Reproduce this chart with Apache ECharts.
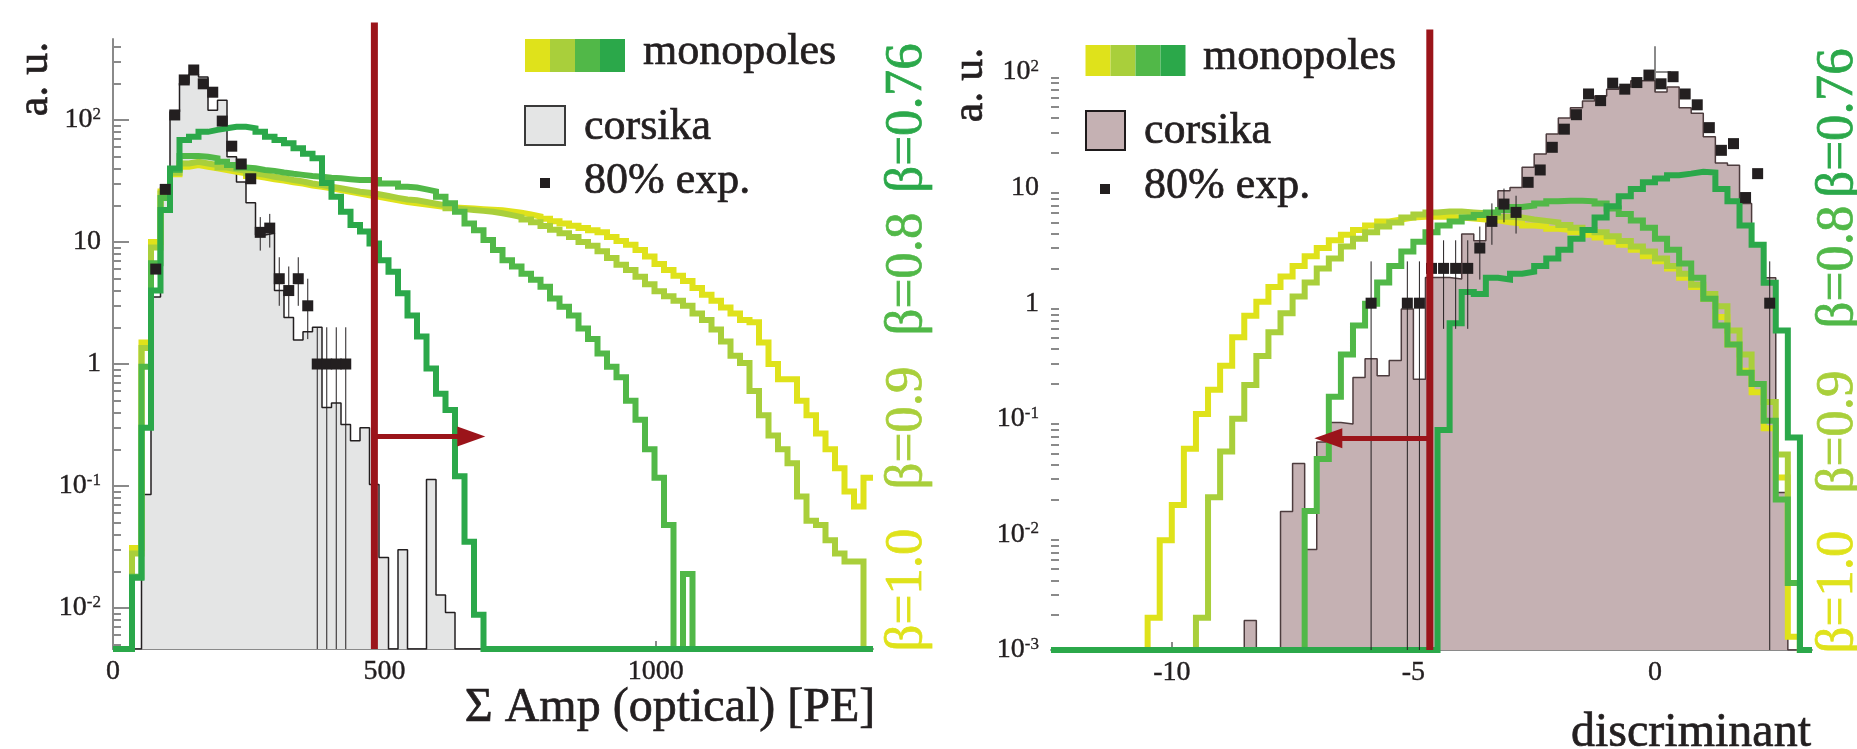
<!DOCTYPE html>
<html>
<head>
<meta charset="utf-8">
<script src="https://cdn.jsdelivr.net/npm/echarts@6/dist/echarts.min.js"></script>
<style>
  html, body { margin: 0; padding: 0; background: #fff; }
  #chart { width: 1857px; height: 749px; }
</style>
</head>
<body>
<div id="chart"></div>
<script>
// ---------- left panel: Sigma Amp (optical) [PE], 80 bins of 17.5 PE ----------
const ampStart = 0;
const ampWidth = 17.5;
const ampB100 = [0, 0, 0.031, 1.5, 10, 26, 36, 41.4, 42.7, 41.4,
  40.2, 38.9, 37.7, 36.6, 34.8, 33.7, 32.7, 31.9, 30.9, 30.1,
  29, 28.4, 27.6, 26.7, 25.8, 25, 24.2, 23.5, 22.7, 22,
  21.3, 20.8, 20.3, 19.8, 19.4, 19.2, 19, 18.8, 18.6, 18.4,
  18.2, 17.8, 17.4, 16.8, 16.2, 15.5, 14.8, 14.2, 13.6, 13,
  12.5, 12, 11, 10.2, 9.5, 8.6, 7.6, 6.6, 5.9, 5.3,
  4.8, 4.2, 3.7, 3.3, 2.9, 2.6, 2.3, 2.2, 1.5, 1.0,
  0.75, 0.75, 0.5, 0.38, 0.27, 0.2, 0.14, 0.09, 0.068, 0.117];
const ampB090 = [0, 0, 0.028, 1.35, 9, 25, 37, 44, 45.5, 44,
  42.7, 40.8, 39.5, 38.3, 36.6, 35.5, 34.3, 33.3, 32.2, 31.3,
  30.2, 29.3, 28.4, 27.6, 26.7, 25.8, 25.3, 24.6, 23.8, 23,
  22.3, 22, 21.3, 20.6, 20, 18.9, 18.6, 18.3, 18, 17.7,
  17.2, 16.6, 16, 15.3, 14.5, 13.5, 12.6, 11.8, 11, 10,
  9.3, 8.4, 7.4, 6.5, 5.9, 5.2, 4.5, 3.95, 3.6, 3.3,
  3.0, 2.6, 2.3, 1.92, 1.53, 1.17, 1.02, 0.6, 0.38, 0.26,
  0.2, 0.154, 0.082, 0.052, 0.048, 0.036, 0.028, 0.024, 0.024, 0];
const ampB080 = [0, 0, 0.018, 0.95, 6.7, 23, 39, 50.6, 50.6, 50,
  48.5, 45.5, 42.7, 40.8, 40.2, 38.9, 38.3, 37.1, 36.2, 35.5,
  34.8, 34.3, 33.7, 33.3, 32.7, 32.2, 32.2, 32.2, 30.2, 30.2,
  28.4, 28, 27, 26, 23.5, 20.8, 17.7, 14.2, 12.5, 10.4,
  8.6, 7.1, 6.3, 5.5, 4.9, 4.3, 3.45, 2.95, 2.5, 1.95,
  1.6, 1.22, 0.95, 0.78, 0.5, 0.35, 0.2, 0.117, 0.048, 0,
  0.019, 0, 0, 0, 0, 0, 0, 0, 0, 0,
  0, 0, 0, 0, 0, 0, 0, 0, 0, 0];
const ampB076 = [0, 0, 0.0177, 0.3, 4.0, 18.3, 40, 68.6, 73, 80,
  83, 85.5, 88, 88, 85.5, 80, 73, 68.6, 64.4, 58.6,
  53, 48.6, 30.4, 23.5, 17.7, 13.8, 12.2, 9.7, 7.1, 5.7,
  3.8, 2.5, 1.68, 0.92, 0.57, 0.42, 0.12, 0.035, 0.0088, 0,
  0, 0, 0, 0, 0, 0, 0, 0, 0, 0,
  0, 0, 0, 0, 0, 0, 0, 0, 0, 0,
  0, 0, 0, 0, 0, 0, 0, 0, 0, 0,
  0, 0, 0, 0, 0, 0, 0, 0, 0, 0];
const ampCorsika = [0, 0, 0, 0.085, 3.55, 28, 117, 200, 237, 225,
  120, 145, 50, 31, 21, 11.4, 11.8, 4.0, 2.4, 1.57,
  1.84, 2.0, 0.44, 0.48, 0.32, 0.235, 0.30, 0.103, 0.026, 0,
  0.030, 0, 0, 0.113, 0.0128, 0.0092, 0, 0, 0, 0,
  0, 0, 0, 0, 0, 0, 0, 0, 0, 0,
  0, 0, 0, 0, 0, 0, 0, 0, 0, 0,
  0, 0, 0, 0, 0, 0, 0, 0, 0, 0,
  0, 0, 0, 0, 0, 0, 0, 0, 0, 0];
const ampExpBin = [4, 5, 6, 7, 8, 9, 10, 11, 12, 13, 14, 15, 16, 17, 18, 19, 20, 21, 22, 23, 24];
const ampExpVal = [6, 27, 110, 213, 257, 198, 169, 98, 61, 43.6, 33, 12, 13, 5, 4, 5, 3, 1, 1, 1, 1];
const ampErrBin = [15, 16, 17, 18, 19, 20, 21, 22, 23, 24];
const ampErrLo = [8.5, 9, 3, 2.4, 3, 1.6, 0, 0, 0, 0];
const ampErrHi = [16, 17, 7.5, 6.3, 7.5, 5, 2.0, 2.0, 2.0, 2.0];
const ampTicks = [0, 500, 1000];
const ampCut = 481.5;
const ampArrowEnd = 660;
const ampArrowY = 0.254;

// ---------- right panel: discriminant, 63 bins of 0.25 ----------
const discStart = -12.5;
const discWidth = 0.25;
const discB100 = [0, 0, 0, 0, 0, 0, 0, 0, 0.0019, 0.0089,
  0.018, 0.055, 0.11, 0.178, 0.287, 0.507, 0.78, 1.03, 1.38, 1.7,
  2.1, 2.55, 3.0, 3.5, 3.9, 4.3, 4.7, 5.1, 5.3, 5.5,
  5.6, 5.6, 5.6, 5.5, 5.4, 5.3, 5.2, 5.0, 4.9, 4.7,
  4.6, 4.4, 4.3, 4.1, 3.9, 3.7, 3.4, 3.2, 2.9, 2.55,
  2.3, 2.0, 1.66, 1.38, 1.09, 0.76, 0.44, 0.26, 0.17, 0.083,
  0.031, 0.0013, 0];
const discB090 = [0, 0, 0, 0, 0, 0, 0, 0, 0, 0,
  0, 0, 0.0019, 0.021, 0.052, 0.1, 0.196, 0.35, 0.56, 0.82,
  1.14, 1.51, 2.0, 2.43, 3.1, 3.6, 4.1, 4.6, 5.0, 5.5,
  5.85, 6.1, 6.2, 6.2, 6.1, 6.0, 5.85, 5.6, 5.5, 5.3,
  5.15, 5.0, 4.75, 4.5, 4.3, 4.1, 3.8, 3.45, 3.1, 2.8,
  2.43, 2.1, 1.8, 1.44, 1.2, 0.94, 0.58, 0.36, 0.2, 0.14,
  0.049, 0.0038, 0];
const discB080 = [0, 0, 0, 0, 0, 0, 0, 0, 0, 0,
  0, 0, 0, 0, 0, 0, 0, 0, 0, 0,
  0, 0.0159, 0.045, 0.155, 0.36, 0.64, 0.99, 1.51, 2.1, 2.8,
  3.4, 4.1, 4.7, 5.1, 5.5, 5.8, 6.1, 6.4, 6.8, 7.0,
  7.3, 7.6, 7.7, 7.7, 7.6, 7.3, 6.6, 5.9, 5.2, 4.5,
  3.6, 2.9, 2.2, 1.66, 1.09, 0.64, 0.44, 0.25, 0.2, 0.096,
  0.02, 0.0038, 0];
const discB076 = [0, 0, 0, 0, 0, 0, 0, 0, 0, 0,
  0, 0, 0, 0, 0, 0, 0, 0, 0, 0,
  0, 0, 0, 0, 0, 0, 0, 0, 0, 0,
  0, 0, 0.08, 0.67, 1.25, 1.2, 1.66, 1.6, 1.8, 1.87,
  2.1, 2.43, 2.9, 3.6, 4.3, 5.5, 6.9, 8.4, 9.7, 11.1,
  12, 12.8, 13.2, 13.7, 13.5, 9.7, 7.6, 4.7, 3.2, 1.5,
  0.58, 0.069, 0];
const discCorsika = [0, 0, 0, 0, 0, 0, 0, 0, 0, 0,
  0, 0, 0, 0, 0, 0, 0.0018, 0, 0, 0.0158,
  0.041, 0.0074, 0.063, 0.093, 0.09, 0.228, 0.33, 0.236, 0.32, 0.89,
  0.22, 1.67, 1.67, 1.62, 3.96, 3.47, 5.0, 9.4, 10, 15,
  19.5, 29, 40, 49, 56, 62, 71, 74, 84, 84,
  67, 74, 49, 44, 27.5, 16.3, 15.6, 7.3, 3.24, 1.66,
  0.023, 0, 0];
const discExpBin = [26, 29, 30, 31, 32, 33, 34, 35, 36, 37, 38, 39, 40, 41, 42, 43,
  44, 45, 46, 47, 48, 49, 50, 51, 52, 53, 54, 55, 56, 57, 58, 59];
const discExpVal = [1, 1, 1, 2, 2, 2, 2, 3, 5.1, 7.2, 6.1, 11.1, 14.2, 22.3, 32, 42.7,
  64.5, 56.5, 80, 71, 81, 94, 79, 91, 64.5, 52, 33, 21, 24, 8.2, 13.2, 1];
const discErrBin = [26, 29, 30, 31, 32, 33, 34, 35, 36, 37, 38, 59];
const discErrLo = [0, 0, 0, 0.6, 0.6, 0.6, 0.6, 1.6, 3.2, 5, 4, 0];
const discErrHi = [2.3, 2.3, 2.3, 3.5, 3.5, 3.5, 3.5, 4.6, 7.3, 9.8, 8.5, 2.3];
const discTicks = [-10, -5, 0];
const discCut = -4.66;
const discArrowEnd = -6.76;
const discArrowY = 0.068;

// y extents in decades (log10 of a.u.)
const ampLogMin = -2.336, ampLogMax = 2.664, ampRedTop = 2.799;
const discLogMin = -3.0, discLogMax = 2.216, discRedTop = 2.367;

const serif = 'Liberation Serif';
const ink = '#231f20';
const axisGray = '#8a8a8a';
const red = '#9b141a';
const betaColors = ['#dfe21b', '#a9cf3b', '#51b848', '#2ba84a'];

const lg = (v, floor) => (v > 0 ? Math.log10(v) : floor);

function stepData(vals, x0, w, floor) {
  const pts = vals.map((v, i) => [x0 + i * w, lg(v, floor)]);
  pts.push([x0 + vals.length * w, lg(vals[vals.length - 1], floor)]);
  return pts;
}

function monoSeries(vals, color, axis, x0, w, floor) {
  return {
    type: 'line', xAxisIndex: axis, yAxisIndex: axis === 0 ? 0 : 3, step: 'end',
    data: stepData(vals, x0, w, floor), symbol: 'none', silent: true, z: 3,
    lineStyle: { color, width: 6, cap: 'butt', join: 'miter' }
  };
}

function corsikaSeries(vals, fill, stroke, axis, x0, w, floor) {
  return {
    type: 'line', xAxisIndex: axis, yAxisIndex: axis === 0 ? 0 : 3, step: 'end',
    data: stepData(vals, x0, w, floor), symbol: 'none', silent: true, z: 1,
    lineStyle: { color: stroke, width: 1.5 },
    areaStyle: { color: fill, opacity: 1, origin: 'start' }
  };
}

function expSeries(bins, vals, axis, x0, w) {
  return {
    type: 'scatter', xAxisIndex: axis, yAxisIndex: axis === 0 ? 0 : 3,
    symbol: 'rect', symbolSize: 11, silent: true, z: 5,
    itemStyle: { color: ink, opacity: 1 },
    data: bins.map((b, i) => [x0 + (b + 0.5) * w, Math.log10(vals[i])])
  };
}

function errSeries(bins, lo, hi, axis, x0, w, floor) {
  return {
    type: 'custom', xAxisIndex: axis, yAxisIndex: axis === 0 ? 0 : 3, silent: true, z: 4,
    encode: { x: 0, y: [1, 2] },
    data: bins.map((b, i) => [x0 + (b + 0.5) * w, lg(lo[i], floor), lg(hi[i], floor)]),
    renderItem: (params, api) => {
      const a = api.coord([api.value(0), api.value(1)]);
      const b = api.coord([api.value(0), api.value(2)]);
      return { type: 'line', shape: { x1: a[0], y1: a[1], x2: b[0], y2: b[1] },
        style: { stroke: ink, lineWidth: 1 } };
    }
  };
}

function cutSeries(cut, top, floor, arrowEnd, arrowY, axis) {
  return {
    type: 'line', xAxisIndex: axis, yAxisIndex: axis === 1 ? 2 : 5, z: 8, silent: true,
    symbol: 'none', clip: false,
    data: [[cut, floor], [cut, top]],
    lineStyle: { color: red, width: 7, cap: 'butt' },
    markLine: {
      silent: true, animation: false, symbol: ['none', 'triangle'], symbolSize: [20, 28],
      label: { show: false },
      lineStyle: { color: red, width: 5, type: 'solid' },
      emphasis: { disabled: true },
      data: [[{ coord: [cut, Math.log10(arrowY)] }, { coord: [arrowEnd, Math.log10(arrowY)] }]]
    }
  };
}

function decades(lo, hi) {
  const out = [];
  for (let n = Math.ceil(lo); n <= Math.floor(hi); n++) out.push(n);
  return out;
}
function minorTicks(lo, hi) {
  const out = [];
  for (let n = Math.floor(lo); n <= Math.ceil(hi); n++) {
    for (let m = 2; m <= 9; m++) {
      const t = n + Math.log10(m);
      if (t > lo && t < hi) out.push(t);
    }
  }
  return out;
}

const powLabel = v => (v === 0 ? '{b|1}' : v === 1 ? '{b|10}' : '{b|10}{s|' + v + '}');
const labelRich = {
  b: { fontSize: 28, fontFamily: serif, color: ink, textBorderColor: ink, textBorderWidth: 0.4 },
  s: { fontSize: 17, fontFamily: serif, color: ink, verticalAlign: 'top', textBorderColor: ink, textBorderWidth: 0.3 }
};

function majorY(grid, lo, hi) {
  const ticks = decades(lo, hi);
  return {
    type: 'value', gridIndex: grid, min: lo, max: hi,
    splitLine: { show: false },
    axisLine: { show: true, lineStyle: { color: axisGray, width: 2 } },
    axisTick: { show: true, inside: true, length: 16, customValues: ticks,
      lineStyle: { color: axisGray, width: 2 } },
    axisLabel: { customValues: ticks, margin: 12, formatter: powLabel, rich: labelRich,
      fontFamily: serif, fontSize: 28, color: ink }
  };
}
function minorY(grid, lo, hi) {
  return {
    type: 'value', gridIndex: grid, min: lo, max: hi, position: 'left',
    splitLine: { show: false }, axisLine: { show: false }, axisLabel: { show: false },
    axisTick: { show: true, inside: true, length: 8, customValues: minorTicks(lo, hi),
      lineStyle: { color: axisGray, width: 2 } }
  };
}
function hiddenY(grid, lo, hi) {
  return { type: 'value', gridIndex: grid, min: lo, max: hi, show: false };
}
function mainX(grid, lo, hi, ticks) {
  return {
    type: 'value', gridIndex: grid, min: lo, max: hi,
    splitLine: { show: false },
    axisLine: { show: true, onZero: false, lineStyle: { color: axisGray, width: 2 } },
    axisTick: { show: true, inside: true, length: 8, customValues: ticks,
      lineStyle: { color: axisGray, width: 2 } },
    axisLabel: { customValues: ticks, margin: 9, fontSize: 28, fontFamily: serif, color: ink,
      textBorderColor: ink, textBorderWidth: 0.4, formatter: v => String(v) }
  };
}
function hiddenX(grid, lo, hi) {
  return { type: 'value', gridIndex: grid, min: lo, max: hi, show: false };
}

const ampEnd = ampStart + ampB100.length * ampWidth;
const discEnd = discStart + discB100.length * discWidth;

function txt(x, y, text, size, color, opts) {
  return Object.assign({ type: 'text', x, y, silent: true, z: 20,
    style: Object.assign({ text, fontSize: size, fontFamily: serif, fill: color,
      stroke: color, lineWidth: 0.7,
      align: 'left', verticalAlign: 'middle' }, (opts && opts.style) || {}) },
    opts && opts.rotation ? { rotation: opts.rotation } : {});
}
function rect(x, y, w, h, fill, stroke) {
  return { type: 'rect', silent: true, z: 20, shape: { x, y, width: w, height: h },
    style: { fill, stroke: stroke || null, lineWidth: stroke ? 2 : 0 } };
}
const up = Math.PI / 2;
const center = { align: 'center', verticalAlign: 'middle' };
const betaNames = ['\u03b2=1.0', '\u03b2=0.9', '\u03b2=0.8', '\u03b2=0.76'];

const graphics = [
  txt(35, 79, 'a. u.', 44, ink, { rotation: up, style: center }),
  txt(970, 85, 'a. u.', 44, ink, { rotation: up, style: center }),
  txt(670, 708, '\u03a3 Amp (optical) [PE]', 48, ink, { style: { align: 'center' } }),
  txt(1691, 733, 'discriminant', 48, ink, { style: { align: 'center' } }),
  // left legend
  ...betaColors.map((c, i) => rect(525 + i * 25, 39, 25, 33, c)),
  txt(643, 52, 'monopoles', 44, ink),
  rect(525, 106, 40, 39, '#e4e5e5', '#3a3a3a'),
  txt(584, 127, 'corsika', 44, ink),
  rect(540, 178, 10, 10, ink),
  txt(584, 181, '80% exp.', 44, ink),
  // right legend
  ...betaColors.map((c, i) => rect(1085.5 + i * 25, 45, 25, 31, c)),
  txt(1203, 57, 'monopoles', 44, ink),
  rect(1086, 111, 39, 39, '#c5b1b3', '#1e1a1b'),
  txt(1144, 131, 'corsika', 44, ink),
  rect(1100, 184, 10, 10, ink),
  txt(1144, 186, '80% exp.', 44, ink),
  // beta labels
  ...[590, 428, 274, 118].map((y, i) => txt(907, y, betaNames[i], 53, betaColors[i], { rotation: up, style: center })),
  ...[592, 432, 267, 123].map((y, i) => txt(1838, y, betaNames[i], 53, betaColors[i], { rotation: up, style: center }))
];

const chart = echarts.init(document.getElementById('chart'), null, { renderer: 'canvas' });
chart.setOption({
  animation: false,
  backgroundColor: '#ffffff',
  textStyle: { fontFamily: serif },
  grid: [
    { left: 113, top: 39, width: 760, height: 610, outerBoundsMode: 'none' },
    { left: 113, top: 22.5, width: 760, height: 626.5, outerBoundsMode: 'none' },
    { left: 1051, top: 47, width: 761, height: 603, outerBoundsMode: 'none' },
    { left: 1051, top: 29.6, width: 761, height: 620.4, outerBoundsMode: 'none' }
  ],
  xAxis: [
    mainX(0, ampStart, ampEnd, ampTicks),
    hiddenX(1, ampStart, ampEnd),
    mainX(2, discStart, discEnd, discTicks),
    hiddenX(3, discStart, discEnd)
  ],
  yAxis: [
    majorY(0, ampLogMin, ampLogMax),
    minorY(0, ampLogMin, ampLogMax),
    hiddenY(1, ampLogMin, ampRedTop),
    majorY(2, discLogMin, discLogMax),
    minorY(2, discLogMin, discLogMax),
    hiddenY(3, discLogMin, discRedTop)
  ],
  series: [
    corsikaSeries(ampCorsika, '#e4e5e5', ink, 0, ampStart, ampWidth, ampLogMin),
    monoSeries(ampB100, betaColors[0], 0, ampStart, ampWidth, ampLogMin),
    monoSeries(ampB090, betaColors[1], 0, ampStart, ampWidth, ampLogMin),
    monoSeries(ampB080, betaColors[2], 0, ampStart, ampWidth, ampLogMin),
    monoSeries(ampB076, betaColors[3], 0, ampStart, ampWidth, ampLogMin),
    errSeries(ampErrBin, ampErrLo, ampErrHi, 0, ampStart, ampWidth, ampLogMin),
    expSeries(ampExpBin, ampExpVal, 0, ampStart, ampWidth),
    cutSeries(ampCut, ampRedTop, ampLogMin, ampArrowEnd, ampArrowY, 1),

    corsikaSeries(discCorsika, '#c5b1b3', '#4d3c3e', 2, discStart, discWidth, discLogMin),
    monoSeries(discB100, betaColors[0], 2, discStart, discWidth, discLogMin),
    monoSeries(discB090, betaColors[1], 2, discStart, discWidth, discLogMin),
    monoSeries(discB080, betaColors[2], 2, discStart, discWidth, discLogMin),
    monoSeries(discB076, betaColors[3], 2, discStart, discWidth, discLogMin),
    errSeries(discErrBin, discErrLo, discErrHi, 2, discStart, discWidth, discLogMin),
    expSeries(discExpBin, discExpVal, 2, discStart, discWidth),
    cutSeries(discCut, discRedTop, discLogMin, discArrowEnd, discArrowY, 3)
  ],
  graphic: graphics
});
</script>
</body>
</html>
